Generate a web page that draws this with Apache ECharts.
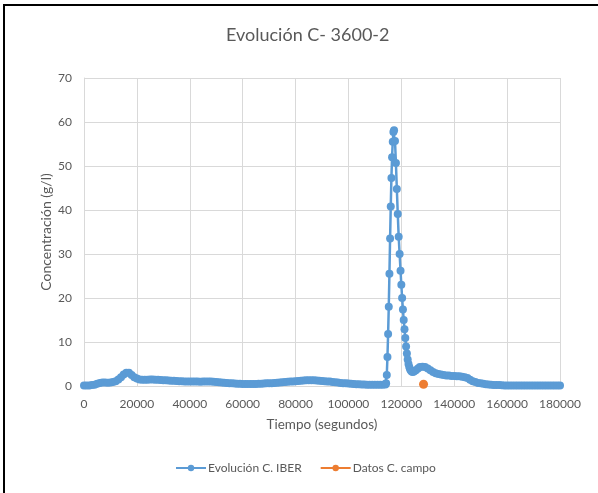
<!DOCTYPE html>
<html>
<head>
<meta charset="utf-8">
<script src="https://cdn.jsdelivr.net/npm/echarts@6/dist/echarts.min.js"></script>
<style>
html,body{margin:0;padding:0;background:#fff;overflow:hidden;}
#frame{position:absolute;left:3px;top:4px;width:620px;height:520px;border-top:2px solid #000;border-left:2px solid #000;}
#chart{position:absolute;left:0;top:0;width:598px;height:493px;}
</style>
</head>
<body>
<div id="frame"></div>
<div id="chart"></div>
<script>
const titleText = 'Evolución C- 3600-2';
const xAxisName = 'Tiempo (segundos)';
const yAxisName = 'Concentración (g/l)';
const seriesNames = ['Evolución C. IBER', 'Datos C. campo'];

// [time (s), concentration (g/l)]
const iberSeries = [
  [0,0.1],[1000,0.1],[2000,0.1],[3000,0.2],[4000,0.3],[5000,0.5],[6000,0.7],[7000,0.8],[8000,0.8],[9000,0.75],
  [10000,0.8],[11000,0.9],[12000,1.1],[13000,1.5],[14000,2.0],[15000,2.6],[16000,3.0],[17000,3.0],[18000,2.5],[19000,2.0],
  [20000,1.7],[21000,1.5],[22000,1.4],[23000,1.4],[24000,1.4],[25000,1.45],[26000,1.45],[27000,1.4],[28000,1.4],[29000,1.35],
  [30000,1.3],[31000,1.3],[32000,1.25],[33000,1.2],[34000,1.2],[35000,1.15],[36000,1.1],[37000,1.1],[38000,1.05],[39000,1.05],
  [40000,1.0],[41000,1.0],[42000,1.0],[43000,1.0],[44000,0.95],[45000,1.0],[46000,1.05],[47000,1.05],[48000,1.0],[49000,0.95],
  [50000,0.9],[51000,0.85],[52000,0.8],[53000,0.75],[54000,0.7],[55000,0.65],[56000,0.6],[57000,0.55],[58000,0.5],[59000,0.5],
  [60000,0.45],[61000,0.45],[62000,0.45],[63000,0.45],[64000,0.45],[65000,0.45],[66000,0.5],[67000,0.5],[68000,0.55],[69000,0.6],
  [70000,0.6],[71000,0.65],[72000,0.7],[73000,0.75],[74000,0.8],[75000,0.85],[76000,0.9],[77000,0.95],[78000,1.0],[79000,1.05],
  [80000,1.1],[81000,1.15],[82000,1.2],[83000,1.25],[84000,1.3],[85000,1.3],[86000,1.3],[87000,1.3],[88000,1.25],[89000,1.2],
  [90000,1.15],[91000,1.1],[92000,1.05],[93000,1.0],[94000,0.9],[95000,0.85],[96000,0.8],[97000,0.7],[98000,0.65],[99000,0.6],
  [100000,0.55],[101000,0.5],[102000,0.45],[103000,0.4],[104000,0.4],[105000,0.35],[106000,0.35],[107000,0.3],[108000,0.3],[109000,0.3],
  [110000,0.3],[111000,0.3],[112000,0.3],[113000,0.3],[114000,0.35],
  [114250,0.6],[114500,2.5],[114750,6.6],[115000,11.8],[115250,18.0],[115500,25.5],[115750,33.5],[116000,40.8],[116250,47.3],[116500,52.0],
  [116750,55.5],[117000,57.7],[117250,58.1],[117600,55.7],[117950,50.7],[118300,44.8],[118650,39.1],[119000,33.9],[119350,30.0],[119700,26.2],
  [120000,23.0],[120300,20.0],[120600,17.4],[120900,15.0],[121200,12.9],[121500,10.9],[121800,9.0],[122100,7.4],[122400,6.0],[122700,5.0],
  [123000,4.3],[123300,3.8],[123600,3.5],[123900,3.3],[124300,3.2],[124800,3.3],[125500,3.6],[126300,4.0],[127000,4.3],[128000,4.4],
  [129000,4.3],[130000,4.0],[131000,3.6],[132000,3.2],[133000,2.9],[134000,2.7],[135000,2.6],[136000,2.5],[137000,2.4],[138000,2.4],
  [139000,2.3],[140000,2.3],[141000,2.2],[142000,2.2],[143000,2.1],[144000,2.0],[145000,1.8],[146000,1.4],[147000,1.1],[148000,0.9],
  [149000,0.7],[150000,0.6],[151000,0.5],[152000,0.4],[153000,0.35],[154000,0.3],[155000,0.25],[156000,0.2],[157000,0.2],[158000,0.15],
  [159000,0.1],[160000,0.1],[161000,0.1],[162000,0.1],[163000,0.1],[164000,0.1],[165000,0.1],[166000,0.1],[167000,0.1],[168000,0.1],
  [169000,0.1],[170000,0.1],[171000,0.1],[172000,0.1],[173000,0.1],[174000,0.1],[175000,0.1],[176000,0.1],[177000,0.1],[178000,0.1],
  [179000,0.1],[180000,0.1]
];
const campoSeries = [[128400,0.4]];

const FONT = 'Lato';
const TXT = '#595959';
const chart = echarts.init(document.getElementById('chart'), null, {renderer:'canvas'});
chart.setOption({
  backgroundColor: 'transparent',
  animation: false,
  textStyle: {fontFamily: FONT},
  title: {
    text: titleText, left: 221, top: 21,
    textStyle: {fontFamily: FONT, fontSize: 18, fontWeight: 'normal', color: TXT}
  },
  legend: {
    bottom: 14, left: 170, itemWidth: 30, itemHeight: 8, itemGap: 18,
    textStyle: {fontFamily: FONT, fontSize: 12, color: TXT, padding: [0, 0, 0, -3]},
    data: seriesNames
  },
  grid: {left: 84, right: 38, top: 78, bottom: 107, containLabel: false},
  xAxis: {
    type: 'value', min: 0, max: 180000, interval: 20000,
    name: xAxisName, nameLocation: 'middle', nameGap: 32,
    nameTextStyle: {fontFamily: FONT, fontSize: 13.5, color: TXT},
    axisLine: {show: true, lineStyle: {color: '#d9d9d9'}},
    axisTick: {show: false},
    axisLabel: {fontFamily: FONT, fontSize: 12, color: TXT, margin: 12, formatter: v => String(v)},
    splitLine: {show: true, lineStyle: {color: '#d9d9d9'}}
  },
  yAxis: {
    type: 'value', min: 0, max: 70, interval: 10,
    name: yAxisName, nameLocation: 'middle', nameGap: 31, nameMoveOverlap: false,
    nameTextStyle: {fontFamily: FONT, fontSize: 14, color: TXT},
    axisLine: {show: true, lineStyle: {color: '#d9d9d9'}},
    axisTick: {show: false},
    axisLabel: {fontFamily: FONT, fontSize: 12, color: TXT, margin: 12},
    splitLine: {show: true, lineStyle: {color: '#d9d9d9'}}
  },
  series: [
    {
      name: seriesNames[0], type: 'line', data: iberSeries,
      symbol: 'circle', symbolSize: 8, showAllSymbol: true,
      lineStyle: {color: '#5b9bd5', width: 2.5},
      itemStyle: {color: '#5b9bd5', borderWidth: 0}
    },
    {
      name: seriesNames[1], type: 'line', data: campoSeries,
      symbol: 'circle', symbolSize: 9,
      lineStyle: {color: '#ed7d31', width: 2.5},
      itemStyle: {color: '#ed7d31', borderWidth: 0}
    }
  ]
});
</script>
</body>
</html>
